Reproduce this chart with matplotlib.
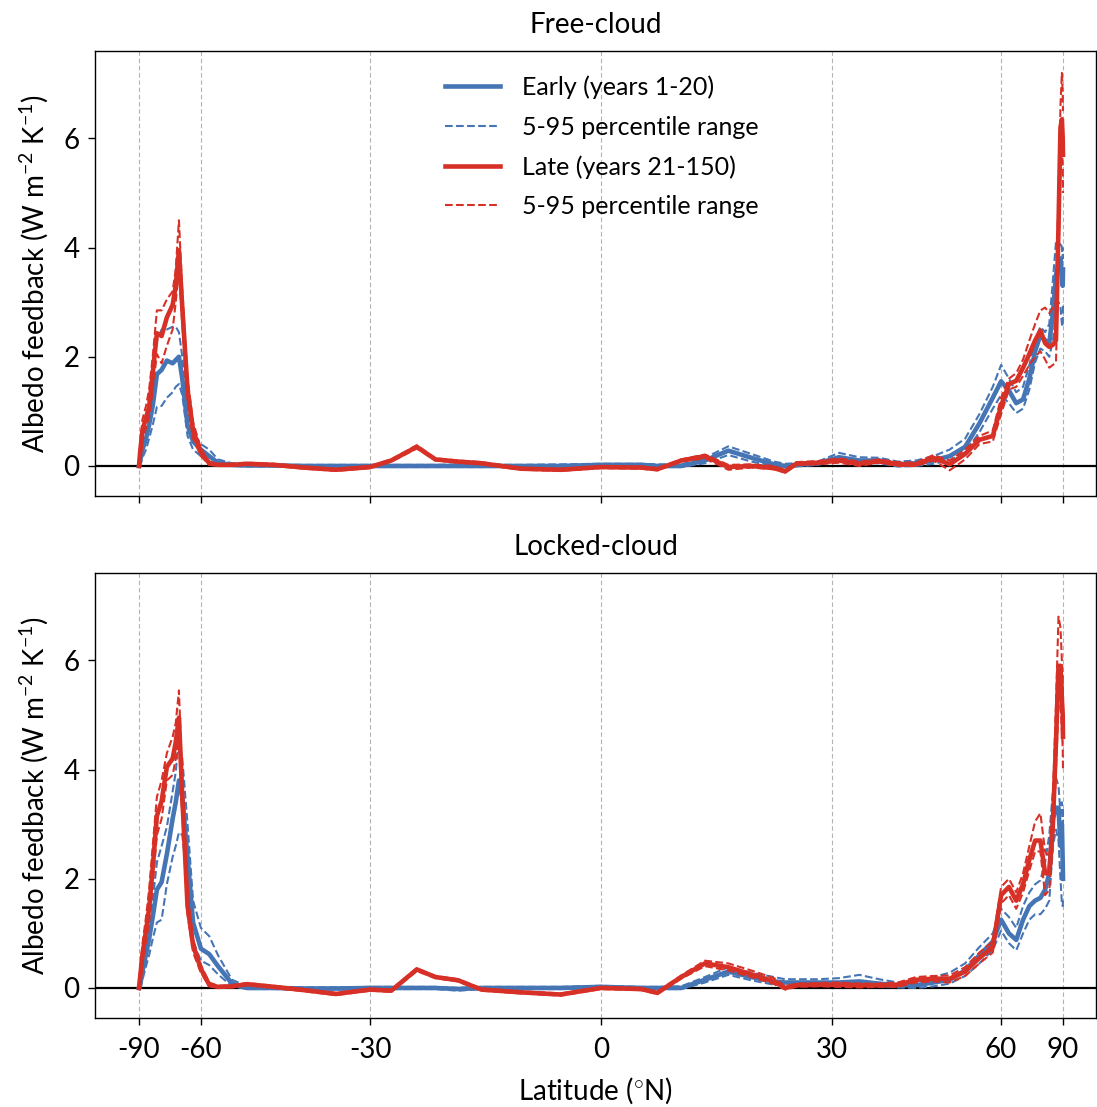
import numpy as np
import matplotlib
matplotlib.use("Agg")
import matplotlib.pyplot as plt

plt.rcParams['font.family'] = ['Lato', 'DejaVu Sans']
plt.rcParams['mathtext.fontset'] = 'custom'
plt.rcParams['mathtext.rm'] = 'Lato'
plt.rcParams['mathtext.it'] = 'Lato:italic'

# ---------------- data ----------------
lat = [-90, -86, -83, -80, -78, -76, -74, -72, -70, -68,
       -67, -66, -65, -63.5, -62, -60, -58, -56, -53, -50,
       -45, -40, -35, -30, -27, -23.5, -21, -18, -15, -10,
       -5, 0, 5, 7, 10, 13, 16, 19, 22, 23.5,
       25, 28, 31, 34, 37, 40, 43, 46, 49, 52,
       55, 58, 60, 62, 64, 66, 68, 70, 72, 74,
       76, 78, 80, 82, 84, 86, 88, 90]

# Free-cloud, early (years 1-20)
free_early = [0, 0.1, 0.3, 0.5, 0.75, 1.1, 1.68, 1.76, 1.93, 1.88,
              1.94, 2.0, 1.6, 0.75, 0.45, 0.3, 0.18, 0.06, 0.02, 0.01,
              0.01, 0.0, 0.0, 0.0, 0.0, 0.0, 0.0, 0.0, 0.0, 0.0,
              0.0, 0.02, 0.02, 0.0, 0.0, 0.1, 0.28, 0.15, 0.03, 0.0,
              0.02, 0.05, 0.16, 0.1, 0.1, 0.03, 0.05, 0.1, 0.18, 0.35,
              0.78, 1.25, 1.55, 1.38, 1.15, 1.22, 1.6, 2.1, 2.4, 2.3,
              2.25, 2.8, 3.5, 3.7, 3.8, 3.5, 3.3, 3.6]
free_early_hi = [0, 0.2, 0.5, 0.8, 1.1, 1.6, 2.3, 2.5, 2.5, 2.55,
                 2.55, 2.45, 2.0, 1.0, 0.6, 0.4, 0.3, 0.12, 0.05, 0.03,
                 0.02, 0.02, 0.02, 0.02, 0.02, 0.02, 0.02, 0.03, 0.02, 0.02,
                 0.03, 0.04, 0.04, 0.03, 0.03, 0.15, 0.36, 0.22, 0.08, 0.04,
                 0.05, 0.08, 0.24, 0.16, 0.15, 0.08, 0.1, 0.18, 0.3, 0.5,
                 0.95, 1.45, 1.85, 1.6, 1.35, 1.45, 1.85, 2.3, 2.55, 2.45,
                 2.6, 3.4, 4.1, 4.0, 4.1, 4.0, 3.8, 4.0]
free_early_lo = [0, 0.0, 0.15, 0.3, 0.5, 0.75, 1.08, 1.1, 1.25, 1.35,
                 1.45, 1.5, 1.3, 0.55, 0.3, 0.18, 0.08, 0.02, 0.0, -0.01,
                 -0.01, -0.02, -0.02, -0.02, -0.02, -0.02, -0.02, -0.02, -0.02, -0.02,
                 -0.02, 0.0, 0.0, -0.02, -0.02, 0.05, 0.2, 0.08, 0.0, -0.03,
                 -0.01, 0.02, 0.1, 0.05, 0.05, -0.01, 0.0, 0.04, 0.1, 0.25,
                 0.62, 1.05, 1.3, 1.15, 0.97, 1.05, 1.4, 1.9, 2.15, 2.1,
                 2.0, 2.3, 2.8, 3.0, 2.9, 2.6, 2.55, 3.0]

# Free-cloud, late (years 21-150)
free_late = [0, 0.25, 0.65, 0.88, 1.08, 1.7, 2.43, 2.38, 2.72, 2.95,
             3.3, 3.95, 2.9, 1.4, 0.65, 0.25, 0.05, 0.02, 0.02, 0.04,
             0.02, -0.03, -0.07, -0.02, 0.1, 0.35, 0.12, 0.08, 0.05, -0.05,
             -0.07, -0.02, -0.03, -0.06, 0.1, 0.18, -0.02, 0.0, -0.04, -0.1,
             0.04, 0.06, 0.1, 0.04, 0.09, 0.03, 0.03, 0.15, 0.03, 0.22,
             0.48, 0.55, 1.1, 1.5, 1.56, 1.8, 2.05, 2.3, 2.48, 2.25,
             2.18, 2.22, 2.3, 4.4, 6.2, 6.35, 6.0, 5.7]
free_late_hi = [0, 0.4, 0.85, 1.1, 1.4, 2.0, 2.85, 2.85, 3.05, 3.2,
                3.6, 4.5, 3.2, 1.6, 0.8, 0.32, 0.08, 0.04, 0.04, 0.06,
                0.04, -0.01, -0.05, 0.0, 0.12, 0.38, 0.14, 0.1, 0.07, -0.03,
                -0.05, 0.0, -0.01, -0.04, 0.12, 0.21, 0.02, 0.03, 0.0, -0.07,
                0.07, 0.09, 0.14, 0.08, 0.12, 0.07, 0.06, 0.2, 0.1, 0.3,
                0.55, 0.65, 1.25, 1.6, 1.7, 1.95, 2.3, 2.6, 2.85, 2.9,
                2.8, 2.9, 3.0, 5.0, 6.6, 7.2, 6.8, 6.5]
free_late_lo = [0, 0.1, 0.45, 0.7, 0.9, 1.4, 2.05, 1.88, 2.2, 2.5,
                3.0, 3.6, 2.6, 1.2, 0.5, 0.18, 0.02, 0.0, 0.0, 0.02,
                0.0, -0.05, -0.09, -0.04, 0.08, 0.32, 0.1, 0.06, 0.03, -0.07,
                -0.09, -0.04, -0.05, -0.08, 0.08, 0.14, -0.07, -0.03, -0.06, -0.12,
                0.02, 0.03, 0.06, 0.0, 0.06, 0.0, 0.0, 0.1, -0.08, 0.12,
                0.4, 0.45, 0.95, 1.4, 1.45, 1.65, 1.85, 2.0, 2.1, 1.95,
                1.8, 1.85, 1.9, 3.8, 5.5, 5.8, 5.5, 5.0]

# Locked-cloud, early (years 1-20)
locked_early = [0, 0.05, 0.3, 0.62, 0.9, 1.3, 1.8, 1.94, 2.45, 3.1,
                3.4, 3.8, 3.5, 2.4, 1.2, 0.72, 0.62, 0.4, 0.08, 0.0,
                0.0, -0.01, -0.01, 0.0, 0.0, 0.0, 0.0, -0.02, 0.0, 0.0,
                0.0, 0.02, 0.0, 0.0, 0.0, 0.15, 0.3, 0.2, 0.12, 0.1,
                0.1, 0.1, 0.1, 0.12, 0.08, 0.05, 0.05, 0.1, 0.15, 0.32,
                0.6, 0.85, 1.25, 1.0, 0.88, 1.25, 1.5, 1.6, 1.65, 1.8,
                2.1, 3.1, 3.3, 3.3, 2.6, 3.0, 2.3, 2.0]
locked_early_hi = [0, 0.15, 0.45, 0.85, 1.2, 1.6, 2.3, 2.6, 2.95, 3.6,
                   3.95, 4.6, 4.2, 3.0, 1.6, 1.1, 0.95, 0.6, 0.15, 0.03,
                   0.02, 0.01, 0.01, 0.02, 0.02, 0.02, 0.02, 0.0, 0.02, 0.02,
                   0.02, 0.04, 0.02, 0.02, 0.03, 0.2, 0.38, 0.28, 0.2, 0.16,
                   0.16, 0.16, 0.18, 0.24, 0.16, 0.1, 0.1, 0.2, 0.28, 0.45,
                   0.75, 1.0, 1.45, 1.3, 1.1, 1.5, 1.75, 1.9, 1.97, 2.3,
                   2.8, 3.6, 3.85, 3.7, 3.2, 3.4, 3.0, 3.3]
locked_early_lo = [0, 0.0, 0.15, 0.4, 0.6, 0.9, 1.2, 1.25, 1.9, 2.4,
                   2.6, 2.85, 2.8, 1.9, 0.85, 0.5, 0.42, 0.25, 0.03, -0.02,
                   -0.02, -0.03, -0.03, -0.02, -0.02, -0.02, -0.02, -0.05, -0.02, -0.02,
                   -0.02, 0.0, -0.02, -0.02, -0.02, 0.1, 0.24, 0.14, 0.06, 0.04,
                   0.04, 0.05, 0.05, 0.05, 0.03, 0.01, 0.0, 0.03, 0.08, 0.22,
                   0.45, 0.7, 1.05, 0.82, 0.69, 1.0, 1.25, 1.35, 1.35, 1.45,
                   1.6, 2.6, 2.9, 2.7, 2.0, 1.55, 1.5, 1.6]

# Locked-cloud, late (years 21-150)
locked_late = [0, 0.2, 0.6, 1.05, 1.45, 2.2, 3.15, 3.42, 4.05, 4.2,
               4.5, 4.95, 3.5, 1.5, 0.78, 0.35, 0.06, 0.02, 0.03, 0.07,
               0.02, -0.04, -0.11, -0.03, -0.05, 0.34, 0.2, 0.14, -0.03, -0.08,
               -0.12, 0.0, -0.02, -0.09, 0.2, 0.45, 0.38, 0.25, 0.12, 0.0,
               0.05, 0.06, 0.06, 0.05, 0.05, 0.06, 0.15, 0.17, 0.17, 0.3,
               0.55, 0.75, 1.7, 1.85, 1.6, 1.9, 2.35, 2.7, 2.7, 2.1,
               2.1, 3.0, 4.5, 5.9, 5.9, 5.3, 5.0, 4.6]
locked_late_hi = [0, 0.35, 0.8, 1.3, 1.8, 2.6, 3.5, 3.8, 4.3, 4.6,
                  4.85, 5.45, 3.8, 1.7, 0.9, 0.42, 0.1, 0.04, 0.05, 0.09,
                  0.04, -0.02, -0.09, -0.01, -0.03, 0.36, 0.22, 0.16, -0.01, -0.06,
                  -0.1, 0.02, 0.0, -0.07, 0.23, 0.5, 0.45, 0.32, 0.18, 0.03,
                  0.08, 0.09, 0.1, 0.08, 0.08, 0.1, 0.2, 0.22, 0.23, 0.38,
                  0.65, 0.85, 1.85, 2.0, 1.75, 2.1, 2.6, 3.05, 3.2, 2.5,
                  2.4, 3.5, 5.2, 6.8, 6.6, 6.0, 5.7, 5.3]
locked_late_lo = [0, 0.1, 0.45, 0.85, 1.2, 1.9, 2.8, 3.1, 3.8, 3.9,
                  4.2, 4.6, 3.2, 1.35, 0.65, 0.28, 0.03, 0.0, 0.01, 0.05,
                  0.0, -0.06, -0.13, -0.05, -0.07, 0.31, 0.18, 0.12, -0.05, -0.1,
                  -0.14, -0.02, -0.04, -0.11, 0.17, 0.4, 0.32, 0.2, 0.07, -0.03,
                  0.02, 0.03, 0.02, 0.01, 0.02, 0.02, 0.1, 0.12, 0.1, 0.22,
                  0.45, 0.65, 1.55, 1.7, 1.45, 1.75, 2.15, 2.5, 2.5, 1.7,
                  1.8, 2.6, 4.0, 5.2, 5.2, 4.7, 4.4, 4.0]

panels = ["Free-cloud", "Locked-cloud"]
xticks = [-90, -60, -30, 0, 30, 60, 90]
yticks = [0, 2, 4, 6]
legend_labels = ["Early (years 1-20)", "5-95 percentile range",
                 "Late (years 21-150)", "5-95 percentile range"]

BLUE = '#4575b4'
RED = '#d73027'

# ---------------- plot ----------------
W, H = 1097, 1107
fig = plt.figure(figsize=(W / 100, H / 100), dpi=100)
left = 95 / W
width = (1096 - 95) / W
ax_top = fig.add_axes([left, 1 - 496 / H, width, 445 / H])
ax_bot = fig.add_axes([left, 1 - 1018 / H, width, 445 / H], sharex=ax_top, sharey=ax_top)

s = np.sin(np.deg2rad(np.array(lat)))
data = [
    (free_early, free_early_lo, free_early_hi, free_late, free_late_lo, free_late_hi),
    (locked_early, locked_early_lo, locked_early_hi, locked_late, locked_late_lo, locked_late_hi),
]

FS = 20
for ax, title, d in zip([ax_top, ax_bot], panels, data):
    e, elo, ehi, l, llo, lhi = d
    for xt in xticks:
        ax.axvline(np.sin(np.deg2rad(xt)), color='#b3b3b3', ls=(0, (4, 2.5)), lw=0.8, zorder=0)
    ax.axhline(0, color='black', lw=1.6, zorder=1)
    ax.plot(s, e, color=BLUE, lw=3.3, label=legend_labels[0], zorder=2)
    ax.plot(s, elo, color=BLUE, lw=1.5, ls='--', label=legend_labels[1], zorder=2)
    ax.plot(s, ehi, color=BLUE, lw=1.5, ls='--', zorder=2)
    ax.plot(s, l, color=RED, lw=3.3, label=legend_labels[2], zorder=3)
    ax.plot(s, llo, color=RED, lw=1.5, ls='--', label=legend_labels[3], zorder=3)
    ax.plot(s, lhi, color=RED, lw=1.5, ls='--', zorder=3)
    ax.set_title(title, fontsize=FS, pad=13)
    ax.set_ylabel(r'Albedo feedback (W m$^{-2}$ K$^{-1}$)', fontsize=FS, labelpad=10)
    ax.set_yticks(yticks)
    ax.tick_params(axis='both', labelsize=FS, length=5, width=1.0, pad=6)
    for sp in ax.spines.values():
        sp.set_linewidth(1.0)

ax_top.set_xlim((95 - 601) / 462, (1096 - 601) / 462)
ax_top.set_ylim(-0.55, 7.6)
ax_top.set_xticks(np.sin(np.deg2rad(xticks)))
ax_bot.set_xticklabels([str(v) for v in xticks])
ax_top.tick_params(axis='x', labelbottom=False)
ax_bot.tick_params(axis='x', pad=9)
ax_bot.set_xlabel(r'Latitude ($^{\circ}$N)', fontsize=FS, labelpad=9)

ax_top.legend(loc='upper left', bbox_to_anchor=((445 - 95) / 1001, 0.945), frameon=False,
              borderaxespad=0, borderpad=0,
              fontsize=18, handlelength=2.2, labelspacing=0.66, handletextpad=0.9)

fig.savefig('out.png', dpi=100)
